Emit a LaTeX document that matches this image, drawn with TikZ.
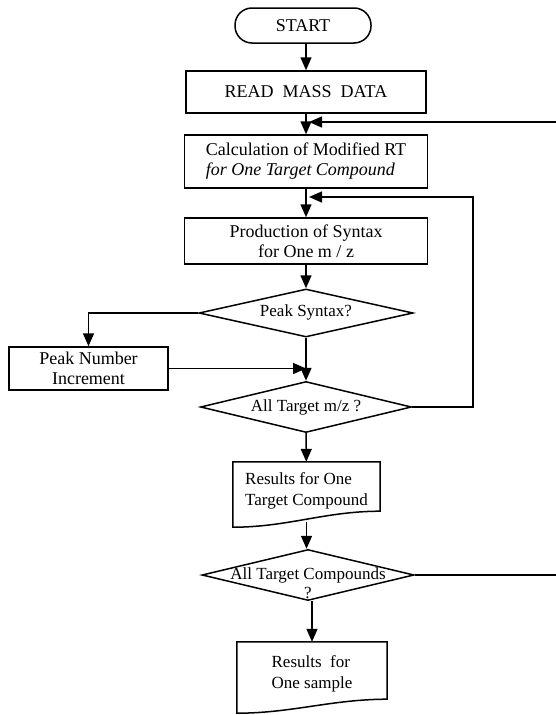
\documentclass[tikz,border=0pt]{standalone}
\usepackage{fontspec}
\setmainfont{Liberation Serif}
\usetikzlibrary{arrows.meta,shapes.geometric,positioning,calc}

\begin{document}
\begin{tikzpicture}[x=1pt, y=-1pt,
        >={Triangle[length=13pt,width=11pt]},
        every node/.style={font=\fontsize{18}{20}\selectfont},
        box/.style={rectangle, draw, line width=1.5pt, align=center, inner sep=2pt},
        term/.style={box, rounded corners=17pt, minimum width=136pt, minimum height=35pt},
        decision/.style={diamond, draw, line width=1.5pt, aspect=4, inner sep=0pt, align=center,
                         font=\fontsize{17}{19}\selectfont},
        docbox/.style={rectangle, align=left, inner sep=2pt, font=\fontsize{17}{21}\selectfont},
        line/.style={line width=1.5pt}
      ]
        \useasboundingbox (0,0) rectangle (556,715);

        \node[term] (start) at (303, 25.5) {START};
        \node[box, minimum width=240pt, minimum height=42pt] (read) at (306, 92) {READ\ \ MASS\ \ DATA};
        \node[box, minimum width=243pt, minimum height=53pt, align=left] (calc) at (306, 161.5)
            {Calculation of Modified RT\\ \textit{for One Target Compound}};
        \node[box, minimum width=243pt, minimum height=46pt] (prod) at (306, 241)
            {Production of Syntax\\ for One m / z};
        \node[decision, minimum width=214pt, minimum height=48pt] (peak) at (306, 313)
            {\raisebox{4pt}{Peak Syntax?}};
        \node[box, minimum width=159pt, minimum height=43pt] (incr) at (88.5, 368.5) {Peak Number\\ Increment};
        \node[decision, minimum width=211pt, minimum height=51pt] (allmz) at (306, 407) {All Target m/z ?};
        \node[docbox, minimum width=147pt, minimum height=58pt] (res1) at (306.5, 491)
            {Results for One\\ Target Compound};
        \node[decision, minimum width=212pt, minimum height=51pt] (allcmp) at (308, 575)
            {\makebox[0pt]{All Target Compounds}\smash{\makebox[0pt]{\raisebox{-19pt}{?}}}};
        \node[docbox, minimum width=150pt, minimum height=64pt] (res2) at (312, 674)
            {Results\ \ for\\ One sample};

        % document outlines
        \draw[line] (res1.north west) -- ([yshift=-7pt]res1.south west)
            .. controls +(55,0) and +(-55,0) .. ([yshift=9pt]res1.south east) -- (res1.north east) -- cycle;
        \draw[line] (res2.north west) -- ([yshift=-7pt]res2.south west)
            .. controls +(55,0) and +(-55,0) .. ([yshift=7pt]res2.south east) -- (res2.north east) -- cycle;

        % loop ends
        \coordinate (rtop) at (556, 122);
        \coordinate (rbot) at (556, 575);
        \coordinate (mzloop) at (473, 197);

        \draw[->, line] (start.south -| read.north) -- (read);
        \draw[->, line] (read) -- (calc);
        \draw[->, line] (rtop) -- ([xshift=3pt]rtop -| read.south);
        \draw[->, line] (calc) -- (prod);
        \draw[->, line] (prod) -- (peak);
        \draw[->, line] (peak.west) -| (incr.north);
        \draw[->, line] (peak) -- (allmz);
        \draw[->, line] (incr.east) -- (incr.east -| allmz.north);
        \draw[->, line] (allmz.east) -| (mzloop) -- ([xshift=3pt]mzloop -| prod.north);
        \draw[->, line] (allmz) -- (res1);
        \draw[->, line] ([yshift=-2pt]res1.south) -- (res1.south |- allcmp.north);
        \draw[line] (allcmp.east) -- (rbot);
        \draw[->, line] (allcmp.south -| res2.north) -- (res2);
      \end{tikzpicture}
\end{document}
